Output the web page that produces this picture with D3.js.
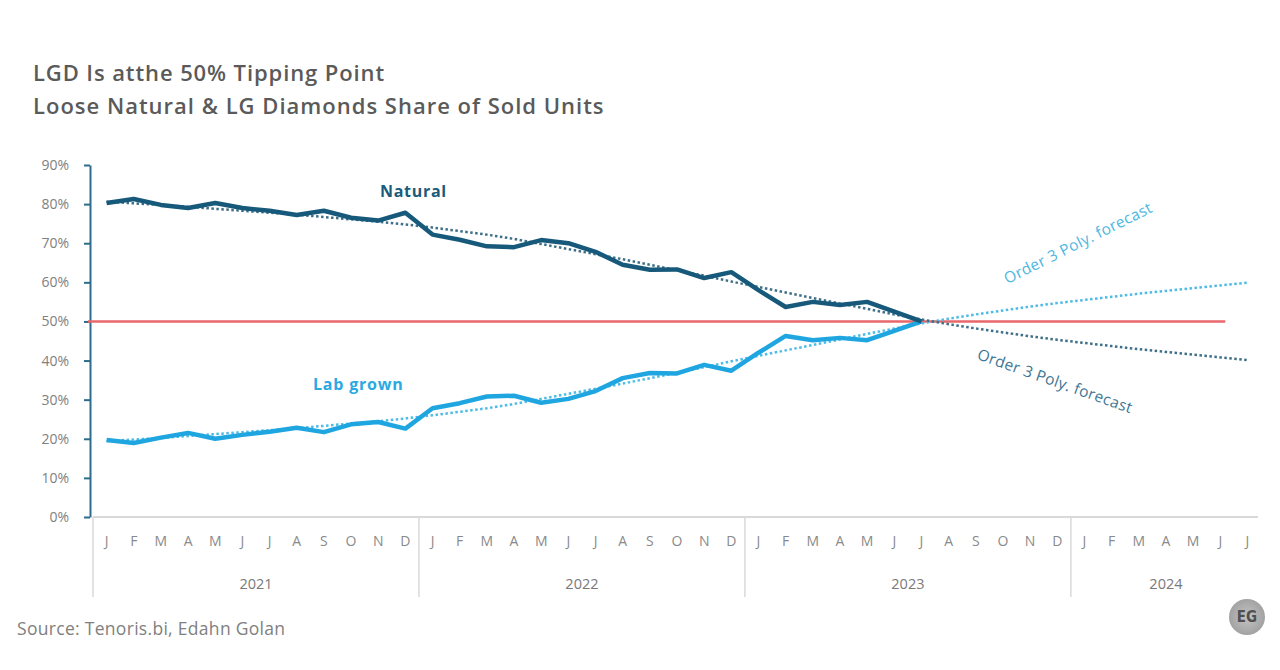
<!DOCTYPE html>
<html>
<head>
<meta charset="utf-8">
<script src="https://cdn.jsdelivr.net/npm/d3@7"></script>
<style>
  body { margin: 0; background: #fff; }
  svg { display: block; font-family: "Open Sans", sans-serif; }
</style>
</head>
<body>
<script>
// month letters and years on the x axis
var monthLetters = ["J","F","M","A","M","J","J","A","S","O","N","D"];
var years = ["2021", "2022", "2023", "2024"];
var monthsPerYear = [12, 12, 12, 7];

// share of sold units, Jan 2021 - Jul 2023 (%)
var natural = [80.3, 81.3, 79.8, 79.0, 80.3, 79.0, 78.3, 77.2, 78.3, 76.5, 75.8, 77.8,
               72.2, 70.9, 69.2, 69.0, 70.8, 70.0, 67.8, 64.5, 63.2, 63.3, 61.1, 62.6,
               58.0, 53.7, 55.0, 54.2, 55.0, 52.5, 50.0];
var labGrown = [19.7, 18.9, 20.3, 21.5, 20.0, 21.0, 21.8, 22.8, 21.7, 23.7, 24.3, 22.6,
                27.8, 29.1, 30.8, 31.0, 29.2, 30.2, 32.2, 35.5, 36.8, 36.7, 38.9, 37.4,
                42.0, 46.3, 45.2, 45.8, 45.2, 47.6, 50.0];

// order 3 poly trend lines, Jan 2021 - Jul 2024
var naturalTrend = [80.6, 80.2, 79.8, 79.3, 78.8, 78.3, 77.8, 77.3, 76.7, 76.1, 75.5, 74.8,
                    74.0, 73.1, 72.2, 71.1, 69.8, 68.5, 67.2, 65.9, 64.5, 63.1, 61.7, 60.2,
                    58.8, 57.4, 56.0, 54.6, 53.2, 51.8, 50.5, 49.3, 48.2, 47.2, 46.2, 45.3,
                    44.5, 43.7, 42.9, 42.2, 41.5, 40.8, 40.1];
var labTrend = [19.4, 19.8, 20.2, 20.7, 21.2, 21.7, 22.2, 22.7, 23.3, 23.9, 24.5, 25.2,
                26.0, 26.9, 27.8, 28.9, 30.2, 31.5, 32.8, 34.1, 35.5, 36.9, 38.3, 39.8,
                41.2, 42.6, 44.0, 45.4, 46.8, 48.2, 49.5, 50.7, 51.8, 52.8, 53.8, 54.7,
                55.5, 56.3, 57.1, 57.8, 58.5, 59.2, 59.9];

var tipping = 50;
var yTicks = [0, 10, 20, 30, 40, 50, 60, 70, 80, 90];

var w = 1280, h = 670;

// build month categories
var categories = [];
years.forEach(function (yr, yi) {
    for (var m = 0; m < monthsPerYear[yi]; m++) {
        categories.push(yr + "-" + m);
    }
});

var svg = d3.select("body").append("svg")
    .attr("width", w)
    .attr("height", h);

var x = d3.scaleBand().domain(categories).range([93, 1261]);
var y = d3.scaleLinear().domain([0, 90]).range([517, 165]);

function xc(i) { return x(categories[i]) + x.bandwidth() / 2; }

// title
svg.append("text").attr("x", 33).attr("y", 81)
    .attr("fill", "#5a5a5a").attr("font-size", 22).attr("font-weight", 600)
    .attr("letter-spacing", 0.9)
    .text("LGD Is atthe 50% Tipping Point");
svg.append("text").attr("x", 33).attr("y", 114)
    .attr("fill", "#5a5a5a").attr("font-size", 22).attr("font-weight", 600)
    .attr("letter-spacing", 1)
    .text("Loose Natural & LG Diamonds Share of Sold Units");

// x axis baseline and year separators
svg.append("line")
    .attr("x1", x.range()[0]).attr("x2", x.range()[1] - 3)
    .attr("y1", y(0)).attr("y2", y(0))
    .attr("stroke", "#d9d9d9").attr("stroke-width", 2);

var yearStart = 0, yearBounds = [];
years.forEach(function (yr, yi) {
    yearBounds.push({ year: yr, first: yearStart, last: yearStart + monthsPerYear[yi] - 1 });
    yearStart += monthsPerYear[yi];
});

svg.selectAll(".sep")
    .data(yearBounds)
    .enter().append("line")
    .attr("x1", function (d) { return x(categories[d.first]); })
    .attr("x2", function (d) { return x(categories[d.first]); })
    .attr("y1", y(0)).attr("y2", y(0) + 80)
    .attr("stroke", "#d9d9d9").attr("stroke-width", 1.5);

// month letters
var xAxis = d3.axisBottom(x)
    .tickSize(0)
    .tickPadding(19)
    .tickFormat(function (d) { return monthLetters[+d.split("-")[1]]; });
var gx = svg.append("g").attr("transform", "translate(0," + y(0) + ")").call(xAxis);
gx.select(".domain").remove();
gx.selectAll("text").attr("fill", "#8a8a8a").attr("font-size", 14)
    .attr("font-family", "Open Sans, sans-serif");

// year labels
svg.selectAll(".year")
    .data(yearBounds)
    .enter().append("text")
    .attr("x", function (d) {
        var a = x(categories[d.first]);
        var b = d.year === "2024" ? x.range()[1] : x(categories[d.last]) + x.bandwidth();
        return (a + b) / 2;
    })
    .attr("y", y(0) + 72)
    .attr("text-anchor", "middle")
    .attr("fill", "#7a7a7a").attr("font-size", 14.5)
    .text(function (d) { return d.year; });

// y axis
var yAxis = d3.axisLeft(y)
    .tickValues(yTicks)
    .tickSize(6)
    .tickSizeOuter(0)
    .tickPadding(15)
    .tickFormat(function (d) { return d + "%"; });
var gy = svg.append("g").attr("transform", "translate(90,0)").call(yAxis);
gy.select(".domain").attr("stroke", "#2c6c8c").attr("stroke-width", 2);
gy.selectAll(".tick line").attr("stroke", "#2c6c8c").attr("stroke-width", 2);
gy.selectAll("text").attr("fill", "#808080").attr("font-size", 14)
    .attr("font-family", "Open Sans, sans-serif");

// 50% line
svg.append("line")
    .attr("x1", 88).attr("x2", xc(41) + 5)
    .attr("y1", y(tipping)).attr("y2", y(tipping))
    .attr("stroke", "#e8676a").attr("stroke-width", 2.5);

var line = d3.line()
    .x(function (d, i) { return xc(i); })
    .y(function (d) { return y(d); });

// trend lines (dotted)
svg.append("path").datum(labTrend)
    .attr("d", line).attr("fill", "none")
    .attr("stroke", "#4dbbe6").attr("stroke-width", 2.5)
    .attr("stroke-dasharray", "2.5,2.5");
svg.append("path").datum(naturalTrend)
    .attr("d", line).attr("fill", "none")
    .attr("stroke", "#3e6f88").attr("stroke-width", 2.5)
    .attr("stroke-dasharray", "2.5,2.5");

// data lines
svg.append("path").datum(labGrown)
    .attr("d", line).attr("fill", "none")
    .attr("stroke", "#1fa6e0").attr("stroke-width", 4.5)
    .attr("stroke-linejoin", "round");
svg.append("path").datum(natural)
    .attr("d", line).attr("fill", "none")
    .attr("stroke", "#17597b").attr("stroke-width", 4.5)
    .attr("stroke-linejoin", "round");

// series labels
svg.append("text").attr("x", 380).attr("y", 197)
    .attr("fill", "#1b5b7c").attr("font-size", 16).attr("font-weight", 700)
    .attr("letter-spacing", 0.7)
    .text("Natural");
svg.append("text").attr("x", 313).attr("y", 390)
    .attr("fill", "#2aa9e2").attr("font-size", 16).attr("font-weight", 700)
    .attr("letter-spacing", 0.8)
    .text("Lab grown");

// forecast labels
svg.append("text")
    .attr("transform", "translate(1078,243) rotate(-26.5)")
    .attr("text-anchor", "middle").attr("dy", "0.35em")
    .attr("fill", "#4cb8e2").attr("font-size", 15.5).attr("letter-spacing", 0.3)
    .text("Order 3 Poly. forecast");
svg.append("text")
    .attr("transform", "translate(1055,381) rotate(19.5)")
    .attr("text-anchor", "middle").attr("dy", "0.35em")
    .attr("fill", "#3f7591").attr("font-size", 15.5).attr("letter-spacing", 0.3)
    .text("Order 3 Poly. forecast");

// source
svg.append("text").attr("x", 17).attr("y", 635)
    .attr("fill", "#808080").attr("font-size", 17.5).attr("letter-spacing", 0.3)
    .text("Source: Tenoris.bi, Edahn Golan");

// EG badge
var grad = svg.append("defs").append("radialGradient").attr("id", "eg");
grad.append("stop").attr("offset", "0%").attr("stop-color", "#c4c4c4");
grad.append("stop").attr("offset", "100%").attr("stop-color", "#a2a2a2");
svg.append("circle").attr("cx", 1247).attr("cy", 617).attr("r", 18)
    .attr("fill", "url(#eg)");
svg.append("text").attr("x", 1247).attr("y", 617).attr("dy", "0.35em")
    .attr("text-anchor", "middle").attr("fill", "#505050")
    .attr("font-size", 15).attr("font-weight", 700)
    .attr("font-family", "Liberation Sans Narrow, DejaVu Sans Condensed, sans-serif")
    .text("EG");
</script>
</body>
</html>
